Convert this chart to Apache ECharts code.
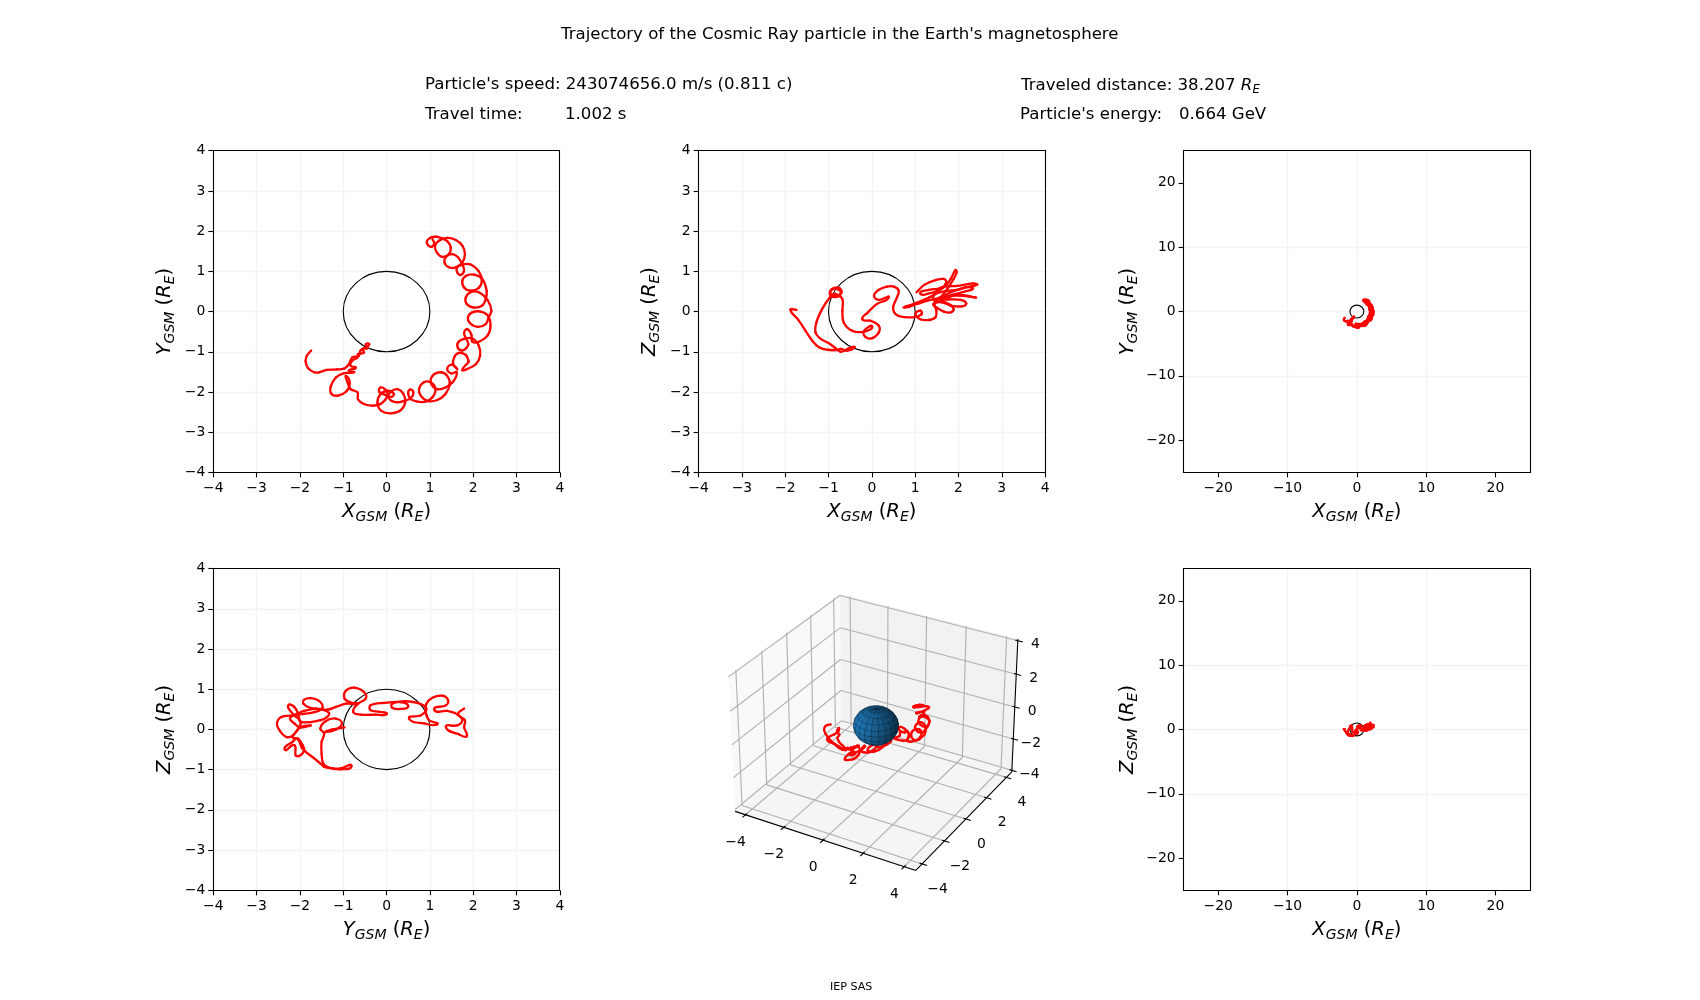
<!DOCTYPE html>
<html><head><meta charset="utf-8">
<script src="https://cdn.jsdelivr.net/npm/echarts@6/dist/echarts.min.js"></script>
<style>html,body{margin:0;padding:0;background:#fff}#c{width:1700px;height:1000px}</style>
</head><body><div id="c"></div>
<script>
// ---- values (Earth radii) ----
const trajX = [1.06,1.10,1.04,.96,.93,1.00,1.13,1.26,1.40,1.48,1.44,1.29,1.16,1.12,1.21,1.40,1.60,1.75,1.81,1.75,1.60,1.44,1.34,1.38,1.52,1.65,1.75,1.79,1.71,1.63,1.63,1.75,
1.94,2.13,2.20,2.13,1.94,1.79,1.75,1.84,2.02,2.21,2.31,2.29,2.21,2.02,1.85,1.83,1.94,2.13,2.33,2.42,2.36,2.29,2.10,1.93,1.88,1.98,2.17,2.34,2.40,2.33,2.13,1.98,
1.96,1.86,1.79,1.84,1.89,1.84,1.75,1.65,1.65,1.79,1.98,2.13,2.16,2.06,1.86,1.75,1.89,1.89,1.83,1.67,1.56,1.54,1.63,1.60,1.50,1.40,1.50,1.62,
1.54,1.36,1.17,1.03,1.06,1.25,1.40,1.46,1.36,1.17,.94,.79,.75,.86,1.02,1.13,1.06,.90,.71,.56,.50,.54,.62,.56,.42,.25,.11,.04,.10,.25,.39,.43,.33,.10,-.12,-.21,-.15,.02,.17,.11,-.04,-.17,-.14,-.04,.02,-.14,-.33,-.52,-.66,-.67,
-.83,-.90,-.93,-.85,-.93,-1.12,-1.27,-1.29,-1.17,-.98,-.75,-.87,-.71,-.83,-.79,-.67,-.66,-.52,-.56,-.44,-.48,-.40,
-.47,-.60,-.64,-.79,-.87,-.98,-1.14,-1.38,-1.56,-1.67,-1.81,-1.87,-1.84,-1.74];
const trajY = [1.80,1.70,1.61,1.65,1.74,1.83,1.86,1.83,1.75,1.60,1.43,1.36,1.47,1.64,1.76,1.83,1.78,1.64,1.43,1.22,1.10,1.10,1.22,1.37,1.43,1.35,1.17,1.02,.91,.98,1.10,1.17,
1.17,1.00,.77,.59,.52,.60,.77,.89,.92,.81,.52,.31,.15,.10,.19,.35,.48,.48,.29,.02,-.14,-.31,-.38,-.29,-.14,-.02,.00,-.10,-.35,-.60,-.75,-.75,
-.58,-.44,-.54,-.68,-.81,-.91,-.97,-.91,-.77,-.68,-.67,-.85,-1.10,-1.31,-1.43,-1.45,-1.26,-1.22,-1.08,-1.03,-1.14,-1.31,-1.43,-1.39,-1.32,-1.43,-1.54,-1.51,
-1.74,-1.89,-1.93,-1.79,-1.60,-1.51,-1.60,-1.80,-2.05,-2.20,-2.22,-2.09,-1.93,-1.76,-1.76,-1.93,-2.13,-2.24,-2.24,-2.18,-2.05,-1.94,-2.01,-2.15,-2.22,-2.26,-2.22,-2.12,-1.99,-1.93,-2.05,-2.26,-2.45,-2.53,-2.47,-2.28,-2.07,-1.97,-2.05,-2.12,-2.07,-1.99,-1.89,-1.93,-2.09,-2.30,-2.34,-2.30,-2.18,-2.01,
-1.93,-1.76,-1.60,-1.79,-1.99,-2.09,-2.05,-1.87,-1.64,-1.53,-1.51,-1.47,-1.40,-1.35,-1.22,-1.14,-1.06,-1.02,-.93,-.91,-.82,-.81,
-.89,-.97,-1.10,-1.14,-1.31,-1.42,-1.44,-1.45,-1.51,-1.51,-1.41,-1.24,-1.10,-.97];
const trajZ = [.50,.52,.50,.47,.46,.48,.55,.60,.68,.74,.78,.75,.68,.60,.55,.58,.66,.74,.80,.78,.70,.58,.50,.48,.50,.54,.60,.66,.62,.52,.50,.55,
.50,.42,.35,.30,.40,.50,.60,.65,.62,.55,.45,.35,.25,.28,.38,.50,.58,.55,.45,.30,.20,.12,.10,.20,.35,.48,.52,.45,.35,.28,.22,.25,
.35,.50,.60,.65,.72,.80,.85,.90,.95,.85,.70,.62,.55,.60,.68,.72,.80,.90,.95,.95,.85,.75,.70,.72,.78,.72,.62,.55,
.45,.35,.28,.20,.25,.35,.42,.40,.30,.18,.12,.05,.10,.20,.30,.28,.15,.05,.00,-.05,.05,.15,.18,.08,-.05,-.15,-.25,-.20,-.10,-.05,-.10,-.25,-.40,-.50,-.60,-.62,-.50,-.40,-.35,-.45,-.55,-.60,-.52,-.40,-.22,-.05,.12,.25,.35,.42,
.46,.50,.48,.42,.35,.20,-.05,-.30,-.52,-.70,-.82,-.88,-.90,-.92,-.95,-.97,-.93,-.90,-.92,-.90,-.90,-.90,
-.92,-.95,-.95,-.95,-.93,-.90,-.80,-.62,-.35,-.18,-.05,.03,.05,.04];

const xzX = [1.03,1.22,1.47,1.66,1.72,1.58,1.35,1.12,1.32,1.65,1.82,1.93,1.96,1.89,1.74,1.58,1.45,1.42,1.58,1.97,2.34,2.43,2.12,1.82,1.57,1.28,1.05,.75,.97,1.32,1.58,1.97,2.32,2.08,1.78,1.66,1.97,2.39,2.12,1.82,1.58,1.74,2.05,2.18,2.08,1.82,1.62,1.42,1.51,1.66,1.82,1.89,1.78,1.58,1.45,1.49,1.47,1.32,1.12,1.01,1.12,1.15,1.01,.78,.58,.49,.58,.62,.51,.35,.16,.05,.16,.39,.12,-.09,-.22,-.03,.16,.16,.01,-.15,-.18,.01,-.18,-.45,-.65,-.68,-.68,-.84,-.95,-.92,-.76,-.70,-.80,-.95,-.95,-.80,-.72,-.88,-.97,-1.15,-1.28,-1.30,-1.18,-.99,-.84,-.72,-.61,-.53,-.40,-.57,-.72,-.84,-1.03,-1.22,-1.38,-1.53,-1.71,-1.88,-1.74];
const xzZ = [.48,.67,.78,.81,.73,.54,.46,.45,.54,.60,.81,1.03,.98,.81,.56,.35,.27,.39,.59,.64,.70,.67,.59,.48,.35,.27,.19,.10,.19,.35,.48,.54,.59,.48,.39,.31,.42,.35,.39,.39,.31,.30,.29,.20,.13,.15,.23,.19,.09,.00,-.02,.06,.19,.25,.19,.02,-.14,-.21,-.19,-.06,.02,-.06,-.13,-.14,-.09,.09,.35,.52,.62,.62,.54,.39,.29,.35,.19,-.02,-.19,-.23,-.35,-.52,-.66,-.63,-.48,-.38,-.50,-.48,-.27,.02,.31,.44,.44,.56,.59,.48,.37,.39,.52,.56,.45,.39,.35,.06,-.27,-.52,-.68,-.79,-.91,-1.00,-.96,-.91,-.89,-.97,-.93,-.96,-.95,-.89,-.72,-.48,-.19,.04,.04];

const yzY = [1.79,1.65,1.81,1.79,1.85,1.67,1.37,1.63,1.75,1.63,1.40,1.10,1.37,1.42,1.29,1.06,.92,.90,.98,1.17,.87,.52,.79,.92,.71,.40,.13,.13,.33,.50,.33,-.06,-.37,-.37,-.17,.00,-.25,-.60,-.77,-.66,-.48,-.52,-.75,-.94,-.97,-.83,-.66,-.94,-1.17,-1.37,-1.63,-1.90,-2.17,-2.43,-2.53,-2.46,-2.30,-2.15,-2.00,-1.75,-2.00,-2.13,-2.23,-2.13,-1.90,-1.67,-1.48,-1.56,-1.75,-1.90,-1.92,-1.77,-1.48,-1.33,-1.37,-1.52,-1.98,-2.04,-2.13,-2.25,-2.27,-2.13,-1.98,-2.06,-2.17,-2.04,-1.94,-1.90,-2.02,-2.10,-2.13,-2.35,-2.17,-2.06,-1.94,-1.67,-1.48,-1.44,-1.25,-1.06,-.81,-1.06,-1.33,-1.46,-1.50,-1.50,-1.44,-1.53,-1.40,-1.17,-1.03,-1.17,-1.40,-1.25,-.97];
const yzZ = [.52,.38,.23,.05,-.17,-.12,.06,.10,.23,.38,.46,.49,.60,.73,.84,.79,.64,.44,.23,.13,.15,.27,.35,.52,.66,.70,.64,.54,.51,.58,.68,.66,.60,.48,.44,.38,.37,.37,.44,.64,.77,.93,1.04,.96,.77,.67,.64,.64,.56,.49,.52,.46,.35,.31,.15,-.04,-.19,-.14,.05,.10,.05,.15,.27,.35,.39,.43,.54,.71,.78,.74,.64,.54,.49,.41,.31,.23,.19,.39,.56,.62,.54,.35,.19,-.02,-.19,-.23,-.39,-.52,-.66,-.64,-.39,-.50,-.31,-.23,-.48,-.72,-.89,-.93,-.97,-.97,-.91,-.99,-.95,-.85,-.60,-.31,-.10,.02,.21,.27,.15,.00,-.06,.00,.05];

const earthRadius = [1];
const nearTicks = [-4,-3,-2,-1,0,1,2,3,4];
const farTicks = [-20,-10,0,10,20];
const ticks3d = [-4,-2,0,2,4];

// ---- layout / style ----
const FONT = 'DejaVu Sans';
const colX = [213.3, 698.6, 1183.6], rowY = [150.7, 568.6], W = 346.5, H = 321.7;
const minus = v => String(v).replace('-', '\u2212');
const axisRich = {
  i:{fontFamily:FONT,fontStyle:'italic',fontSize:19.5,color:'#000'},
  n:{fontFamily:FONT,fontSize:19.5,color:'#000'},
  s:{fontFamily:FONT,fontStyle:'italic',fontSize:14,color:'#000',padding:[11,0,0,0]}
};
const axName = (a) => `{i|${a}}{s|GSM}{n| (}{i|R}{s|E}{n|)}`;

function axis(dim, letter, far) {
  const lim = far ? 25 : 4, t = far ? farTicks : nearTicks;
  const a = {
    type:'value', min:-lim, max:lim,
    name:axName(letter), nameLocation:'middle',
    nameGap: dim==='x' ? 27 : (far ? 43.5 : 36),
    nameRotate: dim==='x' ? 0 : 90,
    nameTextStyle:{rich:axisRich},
    axisLine:{show:false,onZero:false},
    axisTick:{show:true,length:5,lineStyle:{color:'#000',width:1.1}},
    axisLabel:{show:true,fontFamily:FONT,fontSize:13.9,color:'#000',margin:dim==='x'?9:8,
      padding:dim==='x'?0:[2,0,0,0],
      showMinLabel:true,showMaxLabel:true,formatter:minus},
    splitLine:{show:true,showMinLine:false,showMaxLine:false,lineStyle:{color:'#f3f3f3',width:1.4}}
  };
  if (far) { a.axisTick.customValues = t; a.axisLabel.customValues = t; }
  else { a.interval = 1; }
  return a;
}

// The particle's path: one rounded segment per pair of neighbouring read points,
// placed through the axes' own scale (api.coord).
function curveSeries(idx, pts, z) {
  const K = 0.35;
  return {type:'custom',xAxisIndex:idx,yAxisIndex:idx,silent:true,animation:false,z,
    data:pts,encode:{x:0,y:1},
    renderItem:(params,api)=>{
      const i=params.dataIndex, n=pts.length;
      if(i>=n-1) return null;
      const P=k=>api.coord(pts[Math.max(0,Math.min(n-1,k))]);
      const p0=P(i-1),p1=P(i),p2=P(i+1),p3=P(i+2);
      const chord=Math.hypot(p2[0]-p1[0],p2[1]-p1[1]);
      const dir=(a,b)=>{const dx=b[0]-a[0],dy=b[1]-a[1],m=Math.hypot(dx,dy)||1;return [dx/m,dy/m];};
      const d1=dir(p0,p2), d2=dir(p1,p3);
      return {type:'bezierCurve',shape:{x1:p1[0],y1:p1[1],x2:p2[0],y2:p2[1],
          cpx1:p1[0]+d1[0]*chord*K,cpy1:p1[1]+d1[1]*chord*K,
          cpx2:p2[0]-d2[0]*chord*K,cpy2:p2[1]-d2[1]*chord*K},
        style:{fill:'none',stroke:'#ff0000',lineWidth:2.3,lineCap:'round'}};
    }};
}

const panels = [
 {c:0,r:0,xl:'X',yl:'Y',far:false,xs:trajX,ys:trajY},
 {c:1,r:0,xl:'X',yl:'Z',far:false,xs:xzX,ys:xzZ},
 {c:2,r:0,xl:'X',yl:'Y',far:true,xs:trajX,ys:trajY},
 {c:0,r:1,xl:'Y',yl:'Z',far:false,xs:yzY,ys:yzZ},
 {c:2,r:1,xl:'X',yl:'Z',far:true,xs:xzX,ys:xzZ}
];

const grids=[], xAxes=[], yAxes=[], series=[];
panels.forEach((p,i)=>{
  const lim=p.far?25:4;
  grids.push({left:colX[p.c],top:rowY[p.r],width:W,height:H,show:false,containLabel:false});
  xAxes.push(Object.assign(axis('x',p.xl,p.far),{gridIndex:i}));
  yAxes.push(Object.assign(axis('y',p.yl,p.far),{gridIndex:i}));
  series.push({type:'custom',xAxisIndex:i,yAxisIndex:i,silent:true,animation:false,z:3,
    data:[[0,0,earthRadius[0]]],encode:{x:0,y:1},
    renderItem:(params,api)=>{
      const c=api.coord([api.value(0),api.value(1)]), s=api.size([api.value(2),api.value(2)]);
      return {type:'ellipse',shape:{cx:c[0],cy:c[1],rx:s[0],ry:s[1]},style:{fill:'none',stroke:'#000',lineWidth:1.1}};
    }});
  series.push(curveSeries(i,p.xs.map((x,k)=>[x,p.ys[k]]),4));
  // axes frame on top of the grid lines
  series.push({type:'custom',xAxisIndex:i,yAxisIndex:i,silent:true,animation:false,z:5,
    data:[[-lim,lim,lim,-lim]],encode:{x:[0,2],y:[1,3]},
    renderItem:(params,api)=>{
      const a=api.coord([api.value(0),api.value(1)]), b=api.coord([api.value(2),api.value(3)]);
      const x0=Math.floor(a[0])+.5,y0=Math.floor(a[1])+.5,x1=Math.floor(b[0])+.5,y1=Math.floor(b[1])+.5;
      return {type:'rect',shape:{x:x0,y:y0,width:x1-x0,height:y1-y0},style:{fill:'none',stroke:'#000',lineWidth:1.1}};
    }});
});

// ---- 3D panel: matplotlib's default view (elev 30, azim -60, dist 10) ----
const LXY=-4.55, HXY=4.55, LZ=-4.1, HZ=4.1, DIST=10;
const LOW=[LXY,LXY,LZ], HIGH=[HXY,HXY,HZ];
const boxS=[1.1905,1.1905,0.8929];
const el=30*Math.PI/180, az=-60*Math.PI/180;
const Rc=boxS.map(b=>b/2);
const dirE=[Math.cos(el)*Math.cos(az),Math.cos(el)*Math.sin(az),Math.sin(el)];
const Eye=Rc.map((r,i)=>r+DIST*dirE[i]);
const cross=(a,b)=>[a[1]*b[2]-a[2]*b[1],a[2]*b[0]-a[0]*b[2],a[0]*b[1]-a[1]*b[0]];
const dot=(a,b)=>a[0]*b[0]+a[1]*b[1]+a[2]*b[2];
const ww=dirE, uu=(()=>{const c=cross([0,0,1],ww),n=Math.hypot(...c);return c.map(v=>v/n);})(), vv=cross(ww,uu);
function world(p){return p.map((v,i)=>(v-LOW[i])/(HIGH[i]-LOW[i])*boxS[i]);}
function proj(p){const q=world(p).map((v,i)=>v-Eye[i]);const d=-dot(ww,q);return [dot(uu,q)/d,dot(vv,q)/d,d];}
const g3=panels.length;
grids.push({left:710.8,top:569,width:321.7,height:321.7,show:false});
const lim3={type:'value',min:-0.095,max:0.09,show:false,gridIndex:g3,axisLine:{show:false},axisTick:{show:false},axisLabel:{show:false},splitLine:{show:false}};
xAxes.push(lim3); yAxes.push(Object.assign({},lim3));
function polyCoords(api,pts){return pts.map(p=>{const q=proj(p);return api.coord([q[0],q[1]]);});}
const panes=[
 {pts:[[LXY,LXY,LZ],[LXY,HXY,LZ],[LXY,HXY,HZ],[LXY,LXY,HZ]],fill:'#f9f9f9'},
 {pts:[[LXY,HXY,LZ],[HXY,HXY,LZ],[HXY,HXY,HZ],[LXY,HXY,HZ]],fill:'#f2f2f2'},
 {pts:[[LXY,LXY,LZ],[HXY,LXY,LZ],[HXY,HXY,LZ],[LXY,HXY,LZ]],fill:'#f5f5f5'}
];
series.push({type:'custom',xAxisIndex:g3,yAxisIndex:g3,silent:true,animation:false,z:1,data:panes.map((_,i)=>[i,0]),
  renderItem:(params,api)=>{const P=panes[params.dataIndex];return {type:'polygon',shape:{points:polyCoords(api,P.pts)},style:{fill:P.fill,stroke:'none'}};}});
const gridSegs=[];
ticks3d.forEach(t=>{
  gridSegs.push([[t,LXY,LZ],[t,HXY,LZ]],[[t,HXY,LZ],[t,HXY,HZ]]);
  gridSegs.push([[LXY,t,LZ],[HXY,t,LZ]],[[LXY,t,LZ],[LXY,t,HZ]]);
  gridSegs.push([[LXY,LXY,t],[LXY,HXY,t]],[[LXY,HXY,t],[HXY,HXY,t]]);
});
series.push({type:'custom',xAxisIndex:g3,yAxisIndex:g3,silent:true,animation:false,z:2,data:gridSegs.map((_,i)=>[i,0]),
  renderItem:(params,api)=>{const c=polyCoords(api,gridSegs[params.dataIndex]);
    return {type:'line',shape:{x1:c[0][0],y1:c[0][1],x2:c[1][0],y2:c[1][1]},style:{stroke:'#b0b0b0',lineWidth:1.1}};}});
const axSegs=[[[LXY,LXY,LZ],[HXY,LXY,LZ]],[[HXY,LXY,LZ],[HXY,HXY,LZ]],[[HXY,HXY,LZ],[HXY,HXY,HZ]]];
const TL=0.24;
ticks3d.forEach(t=>{
  axSegs.push([[t,LXY-TL,LZ],[t,LXY+TL*0.5,LZ]]);
  axSegs.push([[HXY+TL,t,LZ],[HXY-TL*0.5,t,LZ]]);
  axSegs.push([[HXY+TL,HXY,t],[HXY-TL*0.5,HXY,t]]);
});
series.push({type:'custom',xAxisIndex:g3,yAxisIndex:g3,silent:true,animation:false,z:3,data:axSegs.map((_,i)=>[i,0]),
  renderItem:(params,api)=>{const c=polyCoords(api,axSegs[params.dataIndex]);
    return {type:'line',shape:{x1:c[0][0],y1:c[0][1],x2:c[1][0],y2:c[1][1]},style:{stroke:'#000',lineWidth:1.1}};}});
const tickLabels=[];
ticks3d.forEach(t=>{
  tickLabels.push({p:[t,LXY,LZ],dx:-10,dy:27.5,t});
  tickLabels.push({p:[HXY,t,LZ],dx:15.5,dy:25,t});
  tickLabels.push({p:[HXY,HXY,t],dx:17.5,dy:4,t});
});
series.push({type:'custom',xAxisIndex:g3,yAxisIndex:g3,silent:true,animation:false,z:6,data:tickLabels.map((_,i)=>[i,0]),
  renderItem:(params,api)=>{const L=tickLabels[params.dataIndex];const c=polyCoords(api,[L.p])[0];
    return {type:'text',x:c[0]+L.dx,y:c[1]+L.dy,style:{text:minus(L.t),fontFamily:FONT,fontSize:13.9,fill:'#000',align:'center',verticalAlign:'middle'}};}});
series.push(curveSeries(g3,trajX.map((x,k)=>{const q=proj([x,trajY[k],trajZ[k]]);return [q[0],q[1]];}),4));
// Earth mesh
const nLon=20,nLat=10,faces=[];
const light=[-0.667,-0.667,0.333];
const sph=(lon,lat)=>[earthRadius[0]*Math.cos(lon)*Math.sin(lat),earthRadius[0]*Math.sin(lon)*Math.sin(lat),earthRadius[0]*Math.cos(lat)];
for(let i=0;i<nLon;i++)for(let j=0;j<nLat;j++){
  const a=i/nLon*2*Math.PI,b=(i+1)/nLon*2*Math.PI,c=j/nLat*Math.PI,d=(j+1)/nLat*Math.PI;
  const pts=[sph(a,c),sph(b,c),sph(b,d),sph(a,d)];
  const mid=sph((a+b)/2,(c+d)/2);
  const s=dot(mid,light)/Math.hypot(...mid);
  const shade=0.3+0.7*(s+1)/2;
  const depth=pts.reduce((m,p)=>m+proj(p)[2],0)/4;
  faces.push({pts,depth,fill:`rgb(${Math.round(31*shade)},${Math.round(119*shade)},${Math.round(180*shade)})`});
}
faces.sort((a,b)=>b.depth-a.depth);
series.push({type:'custom',xAxisIndex:g3,yAxisIndex:g3,silent:true,animation:false,z:5,data:faces.map((_,i)=>[i,0]),
  renderItem:(params,api)=>{const F=faces[params.dataIndex];
    return {type:'polygon',shape:{points:polyCoords(api,F.pts)},style:{fill:F.fill,stroke:'rgba(10,25,40,0.45)',lineWidth:0.5}};}});

// ---- texts ----
const TS=16.6;
const T=(text,left,top,size,rich)=>({text,left,top,padding:0,textStyle:{fontFamily:FONT,fontSize:size,fontWeight:'normal',color:'#000',rich:rich||{}}});
const reRich={i:{fontFamily:FONT,fontStyle:'italic',fontSize:TS,color:'#000'},s:{fontFamily:FONT,fontStyle:'italic',fontSize:11.7,color:'#000',padding:[9,0,0,0]},n:{fontFamily:FONT,fontSize:TS,color:'#000'}};
const titles=[
 T("Trajectory of the Cosmic Ray particle in the Earth's magnetosphere",561,26,TS),
 T("Particle's speed: 243074656.0 m/s (0.811 c)",425,76,TS),
 T("Travel time:",425,106,TS),
 T("1.002 s",565,106,TS),
 T("{n|Traveled distance: 38.207 }{i|R}{s|E}",1021,75,TS,reRich),
 T("Particle's energy:",1020,106,TS),
 T("0.664 GeV",1179,106,TS),
 T("IEP SAS",830,982,11.1)
];

const chart=echarts.init(document.getElementById('c'),null,{renderer:'canvas',width:1700,height:1000});
chart.setOption({animation:false,backgroundColor:'#fff',title:titles,grid:grids,xAxis:xAxes,yAxis:yAxes,series});
</script></body></html>
